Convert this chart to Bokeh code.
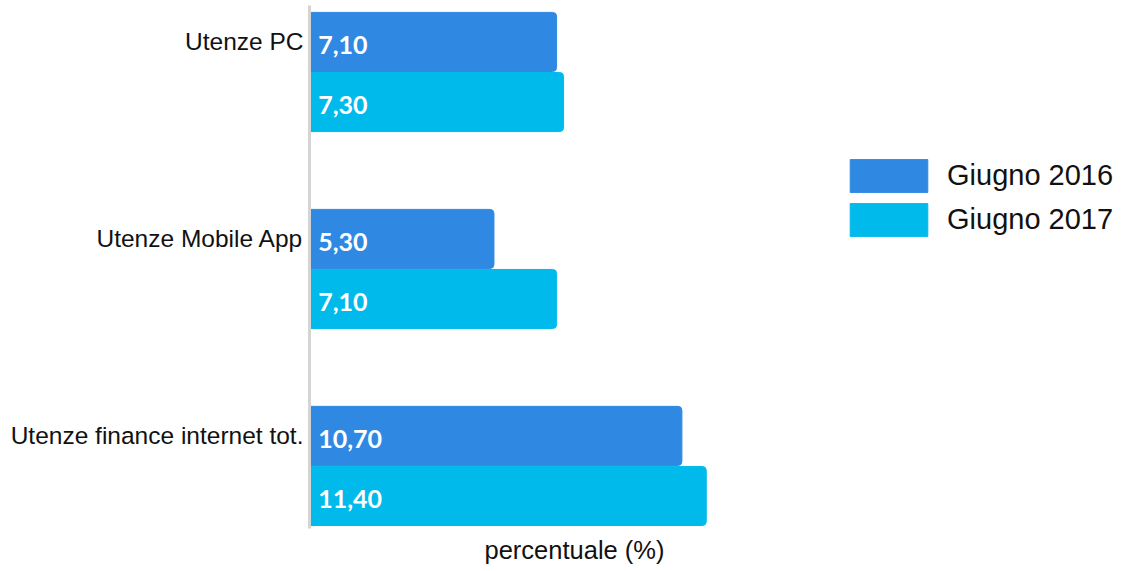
from bokeh.plotting import figure
from bokeh.models import Range1d, FixedTicker, Legend, LegendItem, Title, ColumnDataSource
from bokeh.core.properties import value
from bokeh.embed import file_html
from bokeh.resources import INLINE

categories = ["Utenze PC", "Utenze Mobile App", "Utenze finance internet tot."]
giugno_2016 = [7.10, 5.30, 10.70]
giugno_2017 = [7.30, 7.10, 11.40]
series_names = ["Giugno 2016", "Giugno 2017"]
colors = ["#2F89E3", "#00BAEB"]
axis_title = "percentuale (%)"

pos = list(range(len(categories)))


def fmt(v):
    return f"{v:.2f}".replace(".", ",")


src16 = ColumnDataSource(dict(y=[c for c in pos], v=giugno_2016,
                              lab=[fmt(v) for v in giugno_2016]))
src17 = ColumnDataSource(dict(y=[c + 0.305 for c in pos], v=giugno_2017,
                              lab=[fmt(v) for v in giugno_2017]))

p = figure(width=1122, height=571, output_backend="svg", toolbar_location=None,
           x_range=Range1d(0, 23.36), y_range=Range1d(2.47, -0.185),
           min_border_left=309, min_border_right=0, min_border_top=5,
           min_border_bottom=43)
p.outline_line_color = None
p.background_fill_color = "white"
p.border_fill_color = "white"
p.xgrid.visible = False
p.ygrid.visible = False
p.xaxis.visible = False

p.yaxis.ticker = FixedTicker(ticks=pos)
p.yaxis.major_label_overrides = {i: c for i, c in enumerate(categories)}
p.yaxis.major_tick_line_color = None
p.yaxis.minor_tick_line_color = None
p.yaxis.axis_line_color = "#d4d4d4"
p.yaxis.axis_line_width = 3
p.yaxis.major_label_text_font = "Liberation Sans"
p.yaxis.major_label_text_font_size = "24.5px"
p.yaxis.major_label_text_color = "#111111"
p.yaxis.major_label_standoff = 0

r16 = p.hbar(y="y", left=0, right="v", height=0.3, source=src16,
             fill_color=colors[0], line_color=colors[0], border_radius=[0, 4, 4, 0])
r17 = p.hbar(y="y", left=0, right="v", height=0.3, source=src17,
             fill_color=colors[1], line_color=colors[1], border_radius=[0, 4, 4, 0])

for src in (src16, src17):
    p.text(x=0.25, y="y", text="lab", source=src, text_color="white",
           text_font=value("Lato"), text_font_style="bold", text_font_size="25px",
           text_baseline="middle", text_align="left", y_offset=3)

legend = Legend(items=[LegendItem(label=series_names[0], renderers=[r16]),
                       LegendItem(label=series_names[1], renderers=[r17])],
                location=(531, 288), glyph_width=97, glyph_height=41, spacing=3,
                label_standoff=10, padding=0, margin=0, border_line_color=None,
                background_fill_alpha=0, label_text_font="Liberation Sans",
                label_text_font_size="29px", label_text_color="#111111",
                label_text_baseline="middle")
p.add_layout(legend)

p.add_layout(Title(text=axis_title, align="left", offset=175,
                   text_font="Liberation Sans", text_font_size="25.5px",
                   text_font_style="normal", text_color="#111111", standoff=11),
             "below")

open("out.html", "w").write(file_html(p, INLINE))
